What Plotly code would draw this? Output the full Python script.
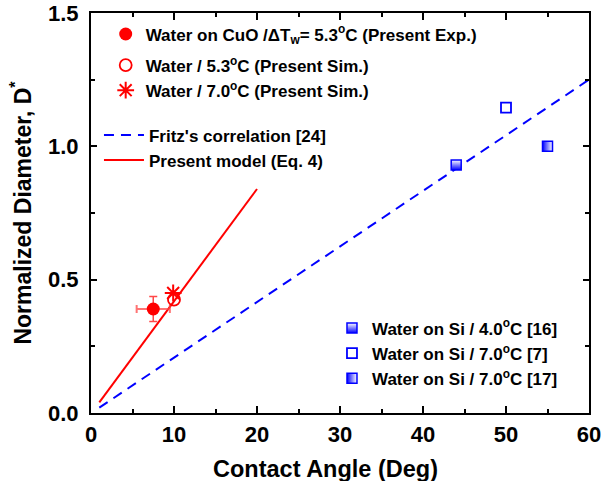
import plotly.graph_objects as go

# ---------------- data ----------------
exp_angle = [7.5]
exp_D = [0.39]
exp_err_angle = [2.0]
exp_err_D = [0.047]

sim53_angle = [10.0]
sim53_D = [0.425]

sim70_angle = [9.9]
sim70_D = [0.45]

fritz_angle = [1, 60]
fritz_D = [0.02, 1.25]

model_angle = [1, 20]
model_D = [0.04, 0.84]

si16_angle = [44]
si16_D = [0.93]
si7_angle = [50]
si7_D = [1.145]
si17_angle = [55]
si17_D = [1.0]

x_tickvals = [0, 10, 20, 30, 40, 50, 60]
y_tickvals = [0.0, 0.5, 1.0, 1.5]
y_ticktext = ["0.0", "0.5", "1.0", "1.5"]

x_title = "Contact Angle (Deg)"
y_title = "Normalized Diameter, D<sup>*</sup>"

FONT = "Liberation Sans, Arial, Helvetica, sans-serif"
RED = "#ff0000"
BLUE = "#0000ff"

fig = go.Figure()

# Present model line (legend2)
fig.add_trace(go.Scatter(
    x=model_angle, y=model_D, mode="lines",
    line=dict(color=RED, width=2),
    name="Present model (Eq. 4)", legend="legend2", legendrank=2,
))
# Fritz correlation (legend2)
fig.add_trace(go.Scatter(
    x=fritz_angle, y=fritz_D, mode="lines",
    line=dict(color=BLUE, width=2, dash="10px,7px"),
    name="Fritz's correlation [24]", legend="legend2", legendrank=1,
))

# Experimental point
fig.add_trace(go.Scatter(
    x=exp_angle, y=exp_D, mode="markers",
    marker=dict(symbol="circle", size=13, color=RED),
    error_x=dict(type="data", array=exp_err_angle, color="rgba(255,70,70,0.75)", thickness=2, width=4),
    error_y=dict(type="data", array=exp_err_D, color="rgba(255,40,40,0.85)", thickness=1.5, width=4),
    name="Water on CuO /ΔT<sub>w</sub>= 5.3<sup>o</sup>C (Present Exp.)",
    legend="legend", legendgroup="a", legendrank=1,
))
fig.add_trace(go.Scatter(
    x=sim53_angle, y=sim53_D, mode="markers",
    marker=dict(symbol="circle-open", size=12, color=RED, line=dict(width=1.8, color=RED)),
    name="Water / 5.3<sup>o</sup>C (Present Sim.)",
    legend="legend", legendgroup="b", legendrank=2,
))
fig.add_trace(go.Scatter(
    x=sim70_angle, y=sim70_D, mode="markers",
    marker=dict(symbol="asterisk-open", size=14, color=RED, line=dict(width=2, color=RED)),
    name="Water / 7.0<sup>o</sup>C (Present Sim.)",
    legend="legend", legendgroup="b", legendrank=3,
))

# Si data (legend3)
fig.add_trace(go.Scatter(
    x=si16_angle, y=si16_D, mode="markers",
    marker=dict(symbol="square", size=10, color="white",
                gradient=dict(type="vertical", color=BLUE),
                line=dict(color=BLUE, width=1.5)),
    name="Water on Si / 4.0<sup>o</sup>C [16]", legend="legend3", legendrank=1,
))
fig.add_trace(go.Scatter(
    x=si7_angle, y=si7_D, mode="markers",
    marker=dict(symbol="square-open", size=10, color=BLUE, line=dict(color=BLUE, width=1.8)),
    name="Water on Si / 7.0<sup>o</sup>C [7]", legend="legend3", legendrank=2,
))
fig.add_trace(go.Scatter(
    x=si17_angle, y=si17_D, mode="markers",
    marker=dict(symbol="square", size=10, color=BLUE,
                gradient=dict(type="horizontal", color="white"),
                line=dict(color=BLUE, width=1.5)),
    name="Water on Si / 7.0<sup>o</sup>C [17]", legend="legend3", legendrank=3,
))

legend_font = dict(family=FONT, size=17, color="black", weight="bold")
axis_common = dict(
    showline=True, linecolor="black", linewidth=2, mirror="ticks",
    ticks="inside", tickcolor="black", tickwidth=1.5,
    showgrid=False, zeroline=False, automargin=False,
    tickfont=dict(family=FONT, size=22, color="black", weight="bold"),
)

fig.update_layout(
    width=603, height=481,
    margin=dict(l=91, r=14, t=13, b=68),
    paper_bgcolor="white", plot_bgcolor="white",
    font=dict(family=FONT, color="black", weight="bold"),
    xaxis=dict(
        range=[0, 60], tickvals=x_tickvals, ticklen=7,
        minor=dict(ticks="inside", ticklen=4, dtick=5, tickcolor="black", tickwidth=1.5),
        ticklabelstandoff=1,
        **axis_common,
    ),
    yaxis=dict(
        range=[0, 1.5], tickvals=y_tickvals, ticktext=y_ticktext, ticklen=6,
        minor=dict(ticks="inside", ticklen=4, dtick=0.25, tickcolor="black", tickwidth=1.5),
        title=dict(text=y_title, font=dict(family=FONT, size=23, weight="bold"), standoff=10),
        ticklabelstandoff=6,
        **axis_common,
    ),
    annotations=[dict(
        text=x_title, xref="paper", yref="paper", x=0.47, y=-0.14,
        xanchor="center", yanchor="middle", showarrow=False,
        font=dict(family=FONT, size=23.5, color="black", weight="bold"),
    )],
    legend=dict(x=0.0295, y=0.9914, xanchor="left", yanchor="top",
                bgcolor="rgba(0,0,0,0)", borderwidth=0, font=legend_font,
                tracegroupgap=6, itemwidth=30, traceorder="grouped"),
    legend2=dict(x=0.016, y=0.7389, xanchor="left", yanchor="top",
                 bgcolor="rgba(0,0,0,0)", borderwidth=0, font=legend_font,
                 itemwidth=40, tracegroupgap=0),
    legend3=dict(x=0.4839, y=0.2564, xanchor="left", yanchor="top",
                 bgcolor="rgba(0,0,0,0)", borderwidth=0, font=legend_font,
                 tracegroupgap=0),
    showlegend=True,
)

fig.write_html("out.html")
